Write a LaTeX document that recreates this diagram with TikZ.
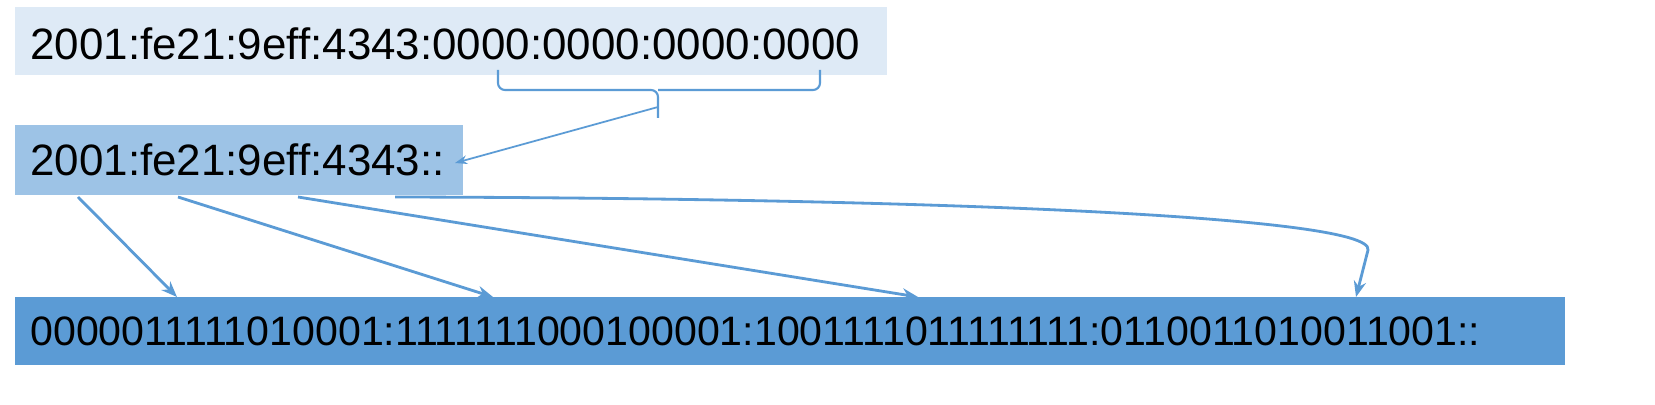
\documentclass[tikz,border=0pt]{standalone}
\usepackage{fontspec}
\setmainfont{Liberation Sans}
\usetikzlibrary{arrows.meta}
\definecolor{pale}{HTML}{DEEAF6}
\definecolor{mid}{HTML}{9DC3E6}
\definecolor{deep}{HTML}{5B9BD5}
\tikzset{
  addr/.style={anchor=west, inner sep=0pt, font=\fontsize{25}{29}\selectfont},
  link/.style={deep, line width=1.6pt, -{Stealth[length=9pt,width=7pt]}},
}
\begin{document}
\begin{tikzpicture}[x=0.02cm, y=-0.02cm]
\fill[white] (0,0) rectangle (1655,405);
\fill[pale] (15,7) rectangle (887,75);
\fill[mid] (15,125) rectangle (463,195);
\fill[deep] (15,297) rectangle (1565,365);

\node[addr] (full) at (30,44) {2001:fe21:9eff:4343:0000:0000:0000:0000};
\node[addr] (short) at (30,160) {2001:fe21:9eff:4343::};
\node[addr, font=\fontsize{23.4}{27}\selectfont] (bits) at (30,331) {0000011111010001:1111111000100001:1001111011111111:0110011010011001::};

% brace under the zero groups
\draw[deep, line width=1.2pt, rounded corners=4pt] (498,70) -- (498,90) -- (658,90) -- (658,118);
\draw[deep, line width=1.2pt, rounded corners=4pt] (820,70) -- (820,90) -- (658,90);
\coordinate (tip) at (658,107);
\coordinate (hit) at (455,163);
\draw[deep, line width=1pt, -{Stealth[length=7pt,width=5pt]}] (tip) -- (hit);

\coordinate (s1) at (78,197);
\coordinate (s2) at (178,197);
\coordinate (s3) at (298,197);
\coordinate (s4) at (395,197);
\coordinate (e1) at (177,297);
\coordinate (e2) at (493,297);
\coordinate (e3) at (918,297);
\coordinate (e4) at (1356,297);
\draw[link] (s1) -- (e1);
\draw[link] (s2) -- (e2);
\draw[link] (s3) -- (e3);
\draw[link] (s4) .. controls (900,198) and (1375,215) .. (1368,250) -- (e4);
\end{tikzpicture}
\end{document}
